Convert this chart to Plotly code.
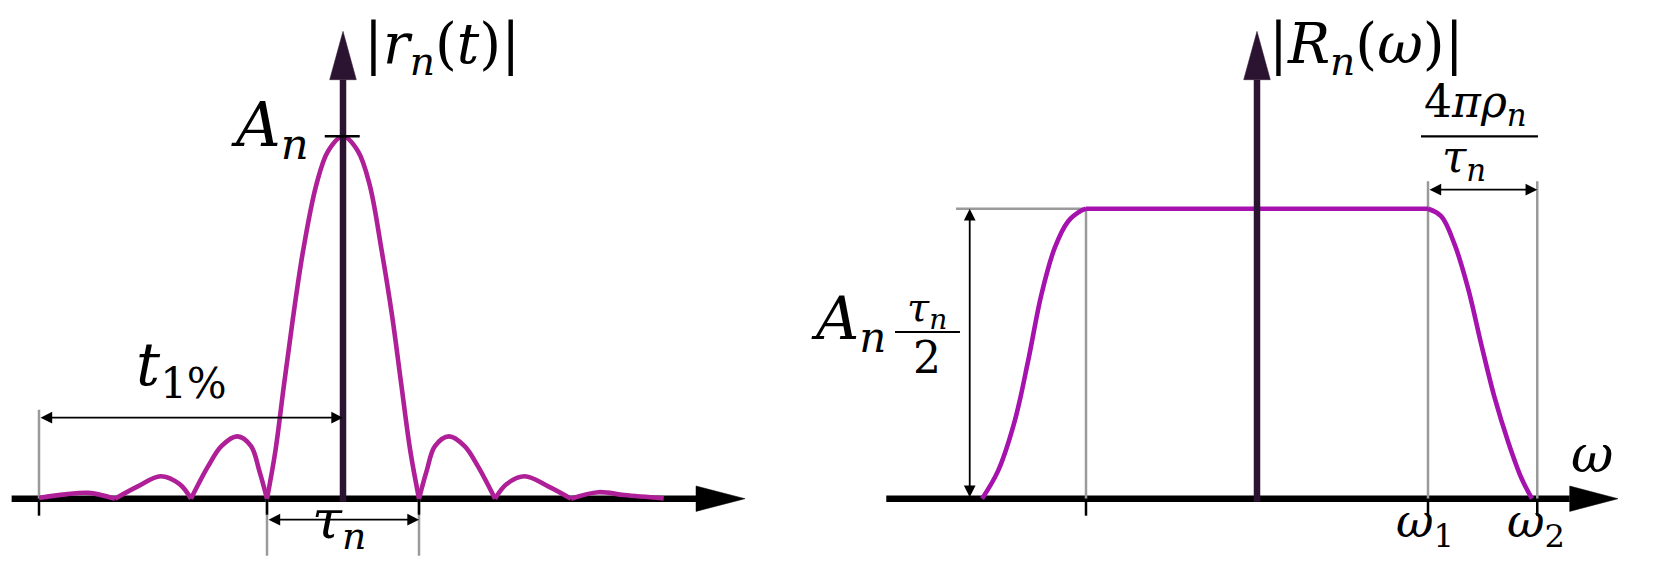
import plotly.graph_objects as go

# ---- |r_n(t)| : t in units of tau_n / 2, height relative to A_n ----
main_t = [-1.0, -0.89, -0.776, -0.658, -0.526, -0.351, -0.197, 0.0, 0.197, 0.351, 0.51, 0.65, 0.767, 0.886, 1.0]
main_r = [0.0, 0.131, 0.315, 0.499, 0.683, 0.866, 0.959, 1.0, 0.959, 0.866, 0.683, 0.499, 0.315, 0.131, 0.0]

side1_left_t = [-2.0, -1.776, -1.60, -1.39, -1.21, -1.10, -1.0]
side1_left_r = [0.0, 0.089, 0.145, 0.172, 0.145, 0.076, 0.0]
side1_right_t = [1.0, 1.10, 1.21, 1.395, 1.60, 1.776, 2.0]
side1_right_r = [0.0, 0.076, 0.145, 0.172, 0.145, 0.089, 0.0]

side2_left_t = [-3.0, -2.70, -2.40, -2.15, -2.0]
side2_left_r = [0.0, 0.034, 0.062, 0.040, 0.0]
side2_right_t = [2.0, 2.15, 2.39, 2.70, 3.0]
side2_right_r = [0.0, 0.040, 0.062, 0.034, 0.0]

side3_left_t = [-4.0, -3.65, -3.35, -3.0]
side3_left_r = [0.002, 0.012, 0.016, 0.0]
side3_right_t = [3.0, 3.36, 3.70, 4.22]
side3_right_r = [0.0, 0.018, 0.010, 0.001]

# ---- |R_n(w)| : w in units of w_1, same height scale ----
spec_w = [-1.608, -1.515, -1.417, -1.339, -1.261, -1.183, -1.105, -1.027, -1.0,
          1.0, 1.078, 1.156, 1.234, 1.312, 1.39, 1.468, 1.546, 1.608]
spec_r = [0.0, 0.076, 0.214, 0.379, 0.563, 0.692, 0.765, 0.795, 0.80,
          0.80, 0.779, 0.701, 0.581, 0.425, 0.278, 0.158, 0.057, 0.0]

t_tick = -4.0          # start of t_1%
tau_half = 1.0         # first zero of r_n
w_edge = -1.0          # left edge of plateau
w1 = 1.0
w2 = 1.639
plateau = 0.80

# ---- page geometry (px) ----
W, H = 1657, 562
SPLIT = 828.5
T0_PX, T_PX = 335, 76.0       # t = 0 position, px per t unit
W0_PX, W_PX = 1249, 171.0     # w = 0 position, px per w unit
BASE_PX, V_PX = 490.7, 362.4  # baseline, px per amplitude unit

CURVE_L = "#AE1F98"
CURVE_R = "#A512AE"
YAX = "#2B1431"
GRAY = "#9A9A9A"
FONT = "DejaVu Serif"

fig = go.Figure()

lobes = [
    (side3_left_t, side3_left_r), (side2_left_t, side2_left_r), (side1_left_t, side1_left_r),
    (main_t, main_r),
    (side1_right_t, side1_right_r), (side2_right_t, side2_right_r), (side3_right_t, side3_right_r),
]
for lt, lr in lobes:
    fig.add_trace(go.Scatter(x=lt, y=lr, mode="lines", line=dict(color=CURVE_L, width=4.6, shape="spline"),
                             xaxis="x", yaxis="y", hoverinfo="skip", showlegend=False))

# rise, flat top, fall drawn as separate pieces so the top stays flat
for a, b in ((0, 9), (8, 10), (9, len(spec_w))):
    fig.add_trace(go.Scatter(x=spec_w[a:b], y=spec_r[a:b], mode="lines",
                             line=dict(color=CURVE_R, width=4.6, shape="spline"),
                             xaxis="x2", yaxis="y2", hoverinfo="skip", showlegend=False))

shapes = []
annos = []


def seg(x0, y0, x1, y1, xr, yr, color, width, layer="below"):
    shapes.append(dict(type="line", x0=x0, y0=y0, x1=x1, y1=y1, xref=xr, yref=yr,
                       line=dict(color=color, width=width), layer=layer))


def tri(p, xr, yr, color, layer):
    path = "M {},{} L {},{} L {},{} Z".format(p[0][0], p[0][1], p[1][0], p[1][1], p[2][0], p[2][1])
    shapes.append(dict(type="path", path=path, xref=xr, yref=yr, fillcolor=color,
                       line=dict(color=color, width=0.5), layer=layer))


def darrow(x0, y0, x1, y1, xr, yr):
    annos.append(dict(x=x1, y=y1, ax=x0, ay=y0, xref=xr, yref=yr, axref=xr, ayref=yr, text="",
                      showarrow=True, arrowhead=2, startarrowhead=2, arrowside="end+start",
                      arrowsize=1.3, startarrowsize=1.3, arrowwidth=1.8, arrowcolor="black",
                      standoff=0, startstandoff=0))


def label(x, y, text, size, xr, yr, xanchor="center", yanchor="middle"):
    annos.append(dict(x=x, y=y, xref=xr, yref=yr, text=text, showarrow=False, xanchor=xanchor,
                      yanchor=yanchor, font=dict(family=FONT, size=size, color="black")))


def v(px):  # px offset -> amplitude units
    return px / V_PX


TOP = v(BASE_PX - 0.5)  # just inside the top edge

# ----- left panel axes -----
seg(-4.36, 0, (688 - T0_PX) / T_PX, 0, "x", "y", "black", 6.5)
tri([((688 - T0_PX) / T_PX, v(12.7)), ((737 - T0_PX) / T_PX, 0), ((688 - T0_PX) / T_PX, -v(12.7))], "x", "y", "black", "below")
seg(0, -v(3), 0, v(BASE_PX - 71.7), "x", "y", YAX, 6.5, "above")
tri([(-13.3 / T_PX, v(BASE_PX - 71.7)), (0, v(BASE_PX - 23.3)), (13.3 / T_PX, v(BASE_PX - 71.7))], "x", "y", YAX, "above")

# A_n tick
seg(-0.24, 1.0, 0.22, 1.0, "x", "y", "black", 2.5, "above")

# t_1% markers
seg(t_tick, 0, t_tick, v(89), "x", "y", GRAY, 2.5)
seg(t_tick, 0, t_tick, -v(17), "x", "y", "black", 2.5)
darrow(t_tick, v(81), 0, v(81), "x", "y")

# tau_n markers
for s in (-tau_half, tau_half):
    seg(s, 0, s, -v(57), "x", "y", GRAY, 2.5)
    seg(s, 0, s, -v(16), "x", "y", "black", 2.5)
darrow(-tau_half, -v(21), tau_half, -v(21), "x", "y")

# ----- right panel axes -----
seg(-2.168, 0, (1561.7 - W0_PX) / W_PX, 0, "x2", "y2", "black", 6.5)
tri([((1561.7 - W0_PX) / W_PX, v(12.7)), ((1610 - W0_PX) / W_PX, 0), ((1561.7 - W0_PX) / W_PX, -v(12.7))], "x2", "y2", "black", "below")
seg(0, -v(3), 0, v(BASE_PX - 71.7), "x2", "y2", YAX, 6.5, "above")
tri([(-13.3 / W_PX, v(BASE_PX - 71.7)), (0, v(BASE_PX - 23.3)), (13.3 / W_PX, v(BASE_PX - 71.7))], "x2", "y2", YAX, "above")

# gray guides and ticks
seg(-1.76, plateau, w_edge, plateau, "x2", "y2", GRAY, 2.5)
seg(w_edge, 0, w_edge, plateau, "x2", "y2", GRAY, 2.5)
for wv in (w1, w2):
    seg(wv, 0, wv, v(BASE_PX - 173.3), "x2", "y2", GRAY, 2.5)
for wv in (w_edge, w1, w2):
    seg(wv, 0, wv, -v(17), "x2", "y2", "black", 2.5)
darrow(-1.68, 0, -1.68, plateau, "x2", "y2")
darrow(w1, v(BASE_PX - 181.7), w2, v(BASE_PX - 181.7), "x2", "y2")

# ----- labels -----
label(0.25, TOP, "|<i>r</i><sub><i>n</i></sub>(<i>t</i>)|", 56, "x", "y", "left", "top")
label(-0.42, v(BASE_PX - 120), "<i>A</i><sub><i>n</i></sub>", 62, "x", "y", "right")
label(-2.12, v(BASE_PX - 360), "<i>t</i><sub>1%</sub>", 60, "x", "y")
label(-0.05, v(13), "<i>τ</i><sub><i>n</i></sub>", 54, "x", "y", yanchor="top")

label(0.06, TOP, "|<i>R</i><sub><i>n</i></sub>(<i>ω</i>)|", 56, "x2", "y2", "left", "top")
label((w1 + w2) / 2 - 0.04, v(BASE_PX - 96), "4<i>πρ</i><sub><i>n</i></sub>", 44, "x2", "y2")
seg(0.959, v(BASE_PX - 128.3), 1.643, v(BASE_PX - 128.3), "x2", "y2", "black", 2.2)
label((w1 + w2) / 2 - 0.11, v(BASE_PX - 151), "<i>τ</i><sub><i>n</i></sub>", 44, "x2", "y2")

label(-2.16, v(BASE_PX - 314), "<i>A</i><sub><i>n</i></sub>", 60, "x2", "y2", "right")
label(-1.927, v(BASE_PX - 302), "<i>τ</i><sub><i>n</i></sub>", 40, "x2", "y2")
seg(-2.117, v(BASE_PX - 324), -1.737, v(BASE_PX - 324), "x2", "y2", "black", 2.2)
label(-1.927, v(BASE_PX - 349), "2", 44, "x2", "y2")

label(1.96, v(BASE_PX - 446), "<i>ω</i>", 52, "x2", "y2")
label(w1 - 0.02, v(7), "<i>ω</i><sub>1</sub>", 46, "x2", "y2", yanchor="top")
label(w2 - 0.01, v(7), "<i>ω</i><sub>2</sub>", 46, "x2", "y2", yanchor="top")

fig.update_layout(
    width=W, height=H,
    margin=dict(l=0, r=0, t=0, b=0),
    paper_bgcolor="white", plot_bgcolor="white",
    showlegend=False,
    font=dict(family=FONT),
    shapes=shapes, annotations=annos,
    xaxis=dict(domain=[0, SPLIT / W], range=[-T0_PX / T_PX, (SPLIT - T0_PX) / T_PX], visible=False, anchor="y"),
    yaxis=dict(domain=[0, 1], range=[(BASE_PX - H) / V_PX, BASE_PX / V_PX], visible=False, anchor="x"),
    xaxis2=dict(domain=[SPLIT / W, 1], range=[(SPLIT - W0_PX) / W_PX, (W - W0_PX) / W_PX], visible=False, anchor="y2"),
    yaxis2=dict(domain=[0, 1], range=[(BASE_PX - H) / V_PX, BASE_PX / V_PX], visible=False, anchor="x2"),
)

fig.write_html("out.html")
